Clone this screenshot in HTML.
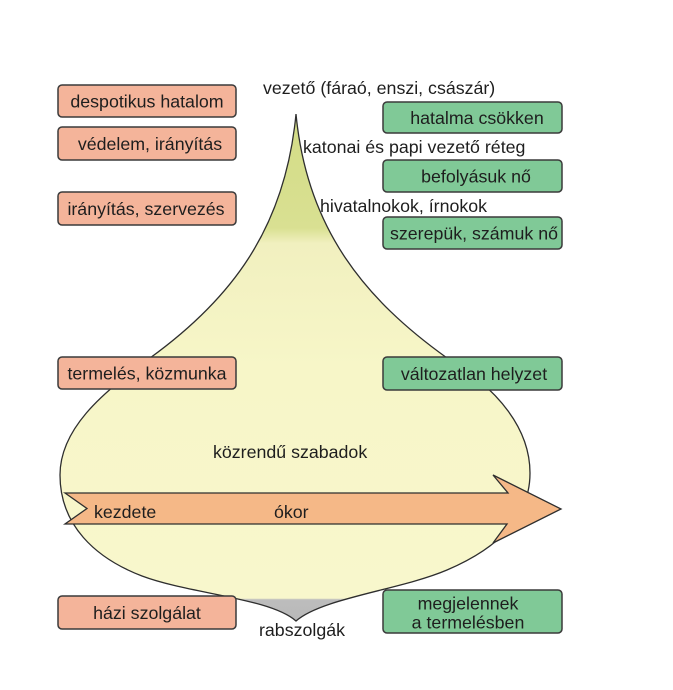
<!DOCTYPE html>
<html>
<head>
<meta charset="utf-8">
<style>
html,body{margin:0;padding:0;background:#ffffff;}
svg{display:block;}
text{font-family:"Liberation Sans",Arial,sans-serif;font-size:17.8px;fill:#1e1e1e;}
</style>
</head>
<body>
<svg width="673" height="690" viewBox="0 0 673 690" xmlns="http://www.w3.org/2000/svg">
  <defs>
    <linearGradient id="shapeFill" gradientUnits="userSpaceOnUse" x1="0" y1="114" x2="0" y2="621">
      <stop offset="0" stop-color="#d3dc86"/>
      <stop offset="0.225" stop-color="#d9e092"/>
      <stop offset="0.255" stop-color="#f1f0bf"/>
      <stop offset="0.5" stop-color="#f7f6c8"/>
      <stop offset="0.955" stop-color="#f8f7cc"/>
      <stop offset="0.958" stop-color="#bdbdbd"/>
      <stop offset="1" stop-color="#b8b8b8"/>
    </linearGradient>
  </defs>

  <rect x="0" y="0" width="673" height="690" fill="#ffffff"/>

  <!-- main onion shape -->
  <path d="M296,114
           C285,230 230,300 150,358
           C100,394 60,430 60,475
           C60,525 95,558 142,576
           C190,594 270,598 296,621
           C322,598 400,590 447,570
           C494,550 530,520 530,473
           C530,430 500,390 447,358
           C366,300 307,230 296,114 Z"
        fill="url(#shapeFill)" stroke="#2e2e2e" stroke-width="1.3"/>

  <!-- arrow -->
  <polygon points="65,493 87,508.5 65,524 507,524 493,543 561,509 493,475 508,493"
           fill="#f5b887" stroke="#2e2e2e" stroke-width="1.3" stroke-linejoin="miter"/>

  <!-- left salmon boxes -->
  <g fill="#f4b49a" stroke="#3a3a3a" stroke-width="1.5">
    <rect x="58" y="85" width="178" height="32" rx="4"/>
    <rect x="58" y="127" width="178" height="33" rx="4"/>
    <rect x="58" y="192" width="178" height="33" rx="4"/>
    <rect x="58" y="357" width="178" height="32" rx="4"/>
    <rect x="58" y="596" width="178" height="33" rx="4"/>
  </g>

  <!-- right green boxes -->
  <g fill="#80c997" stroke="#3a3a3a" stroke-width="1.5">
    <rect x="383" y="102" width="179" height="31" rx="4"/>
    <rect x="383" y="160" width="179" height="32" rx="4"/>
    <rect x="383" y="217" width="179" height="32" rx="4"/>
    <rect x="383" y="357" width="179" height="33" rx="4"/>
    <rect x="383" y="590" width="179" height="43" rx="4"/>
  </g>

  <!-- left box text -->
  <g text-anchor="middle">
    <text x="147" y="107.5">despotikus hatalom</text>
    <text x="150" y="150">védelem, irányítás</text>
    <text x="146" y="215">irányítás, szervezés</text>
    <text x="147" y="379.5">termelés, közmunka</text>
    <text x="147" y="619">házi szolgálat</text>
  </g>

  <!-- right box text -->
  <g text-anchor="middle">
    <text x="477" y="124">hatalma csökken</text>
    <text x="476" y="182.5">befolyásuk nő</text>
    <text x="474" y="239.5">szerepük, számuk nő</text>
    <text x="474" y="380">változatlan helyzet</text>
    <text x="468" y="609.5">megjelennek</text>
    <text x="468" y="628.5">a termelésben</text>
  </g>

  <!-- free labels -->
  <text x="263" y="94">vezető (fáraó, enszi, császár)</text>
  <text x="303" y="153">katonai és papi vezető réteg</text>
  <text x="320" y="212">hivatalnokok, írnokok</text>
  <text x="213" y="458">közrendű szabadok</text>
  <text x="94" y="518">kezdete</text>
  <text x="274" y="518">ókor</text>
  <text x="259" y="636">rabszolgák</text>
</svg>
</body>
</html>
